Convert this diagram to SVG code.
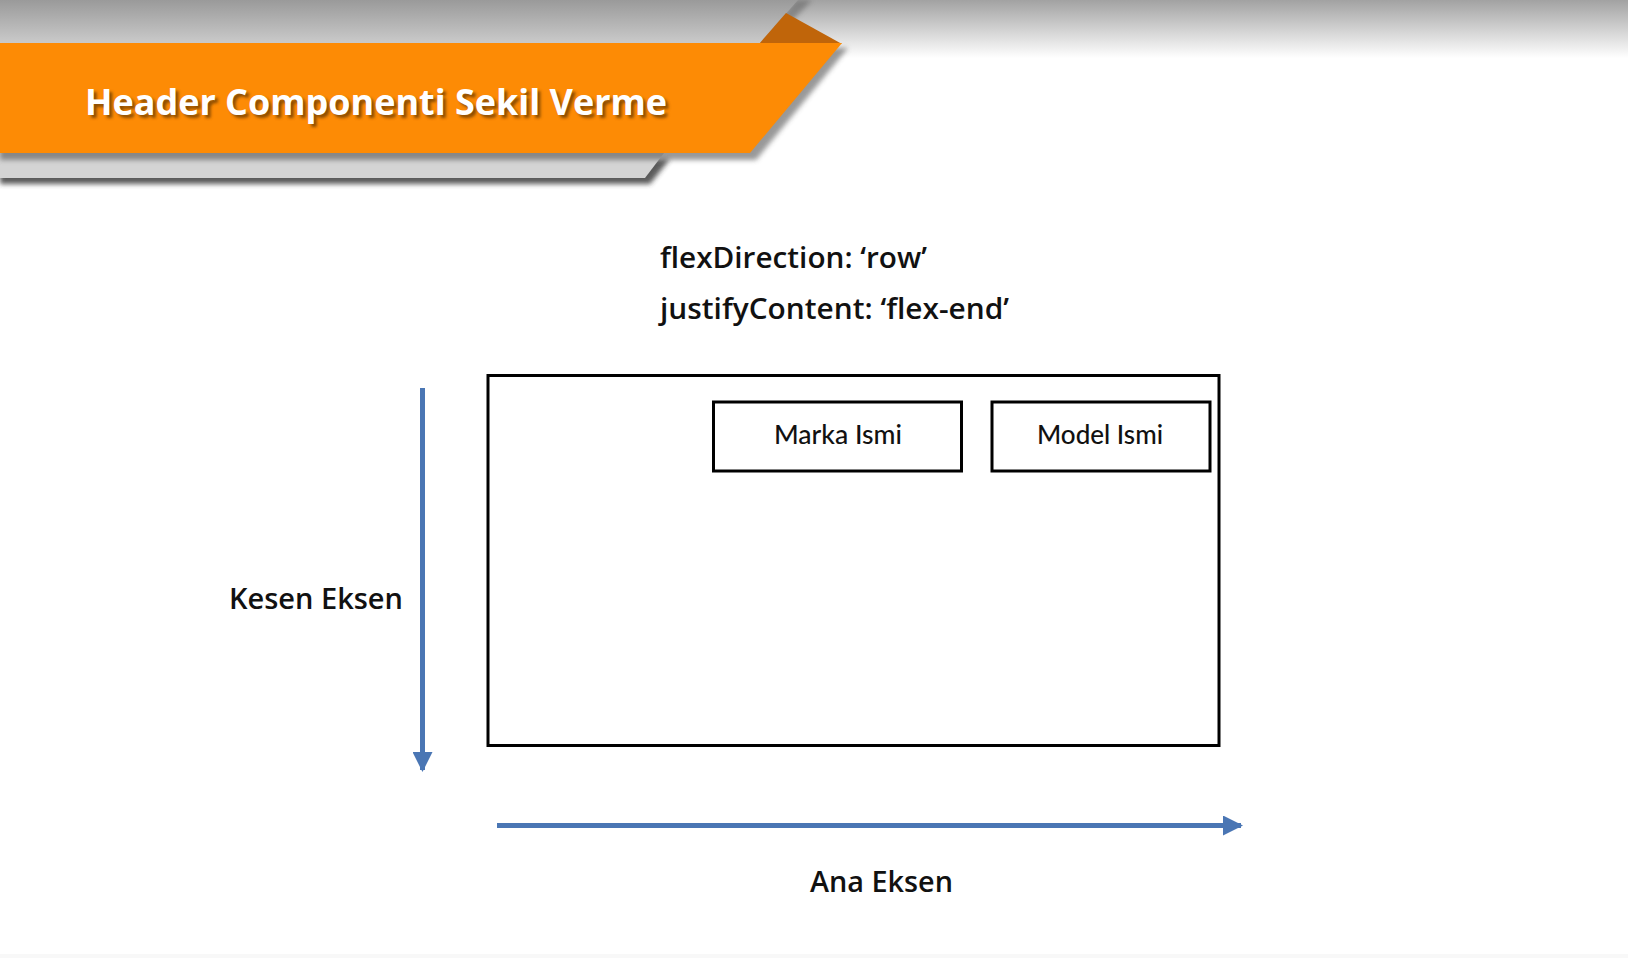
<svg xmlns="http://www.w3.org/2000/svg" width="1628" height="958" viewBox="0 0 1628 958">
<defs>
<linearGradient id="topfade" x1="0" y1="0" x2="0" y2="1">
<stop offset="0" stop-color="#a2a2a2"/>
<stop offset="1" stop-color="#ffffff"/>
</linearGradient>
<linearGradient id="topgray" x1="0" y1="0" x2="0" y2="1">
<stop offset="0" stop-color="#9a9a9a"/>
<stop offset="1" stop-color="#cbcbcb"/>
</linearGradient>
<filter id="blur" x="-10%" y="-20%" width="120%" height="160%">
<feGaussianBlur stdDeviation="2.5"/>
</filter>
<filter id="tblur" x="-5%" y="-20%" width="110%" height="140%">
<feGaussianBlur stdDeviation="1.5"/>
</filter>
<marker id="ah" viewBox="0 0 10 10" refX="9" refY="5" markerWidth="4" markerHeight="4" orient="auto" markerUnits="strokeWidth">
<path d="M0,0 L10,5 L0,10 Z" fill="#4a76b4"/>
</marker>
<style>
.box{fill:#ffffff;stroke:#000000;stroke-width:3}
.lbl{font-family:Lato,"Liberation Sans",sans-serif;font-weight:500;font-size:26px;fill:#111111;text-anchor:middle}
.code{font-family:"Open Sans","Liberation Sans",sans-serif;font-weight:600;font-size:28px;fill:#111111}
.axis{font-family:"Open Sans","Liberation Sans",sans-serif;font-weight:600;font-size:28px;fill:#111111}
.arrow{stroke:#4a76b4;stroke-width:5;fill:none}
.title{font-family:"Open Sans","Liberation Sans",sans-serif;font-weight:700;font-size:35px}
</style>
</defs>
<rect width="1628" height="958" fill="#ffffff"/>
<rect x="0" y="954" width="1628" height="4" fill="#f8f8f8"/>
<g id="banner">
<rect x="0" y="0" width="1628" height="58" fill="url(#topfade)"/>
<polygon points="796,0 812,0 770,44 756,44" fill="#666" opacity="0.6" filter="url(#blur)"/>
<polygon points="0,0 798,0 759,44 0,44" fill="url(#topgray)"/>
<polygon points="0,159 670,159 650,184 0,184" fill="#333" opacity="0.8" filter="url(#blur)"/>
<polygon points="0,153 664,153 645,178 0,178" fill="#d4d4d4"/>
<polygon points="0,48 848,48 756,160 0,160" fill="#555" opacity="0.6" filter="url(#blur)"/>
<polygon points="759,44 786,13 842,44" fill="#c0650a"/>
<polygon points="0,43 842,43 750,153 0,153" fill="#fd8b05"/>
<text class="title" x="88" y="118" fill="#5a3000" opacity="0.7" filter="url(#tblur)" textLength="582" lengthAdjust="spacingAndGlyphs">Header Componenti Sekil Verme</text>
<text class="title" x="85" y="115" fill="#ffffff" textLength="582" lengthAdjust="spacingAndGlyphs">Header Componenti Sekil Verme</text>
</g>
<g id="code">
<text class="code" x="660" y="268" textLength="267" lengthAdjust="spacingAndGlyphs">flexDirection: ‘row’</text>
<text class="code" x="660" y="319" textLength="349" lengthAdjust="spacingAndGlyphs">justifyContent: ‘flex-end’</text>
</g>
<g id="container">
<rect class="box" x="488" y="375.5" width="731" height="370"/>
</g>
<g id="marka">
<rect class="box" x="713.5" y="402" width="248" height="69"/>
<text class="lbl" x="838" y="444" textLength="128" lengthAdjust="spacingAndGlyphs">Marka Ismi</text>
</g>
<g id="model">
<rect class="box" x="992" y="402" width="218" height="69"/>
<text class="lbl" x="1100" y="444" textLength="126" lengthAdjust="spacingAndGlyphs">Model Ismi</text>
</g>
<g id="connectors">
<line class="arrow" x1="422.5" y1="388" x2="422.5" y2="770" marker-end="url(#ah)"/>
<line class="arrow" x1="497" y1="825.5" x2="1241" y2="825.5" marker-end="url(#ah)"/>
</g>
<g id="axis-labels">
<text class="axis" x="229" y="609" textLength="174" lengthAdjust="spacingAndGlyphs">Kesen Eksen</text>
<text class="axis" x="810" y="892" textLength="143" lengthAdjust="spacingAndGlyphs">Ana Eksen</text>
</g>
</svg>
